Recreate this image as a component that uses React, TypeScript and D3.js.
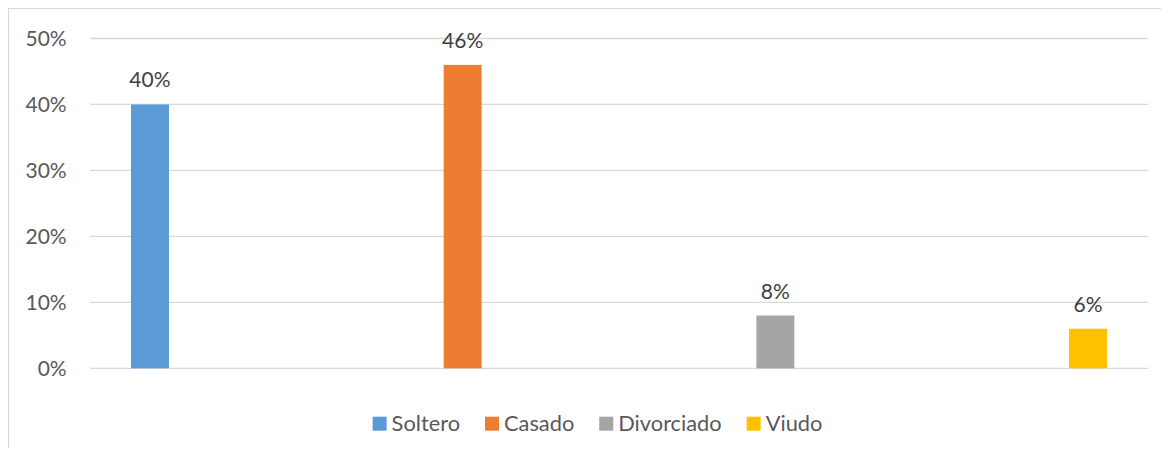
import React, { useEffect, useRef } from "react";
import * as d3 from "d3";

const categories = ["Soltero", "Casado", "Divorciado", "Viudo"];
const values = [0.40, 0.46, 0.08, 0.06];
const colors = ["#5B9BD5", "#ED7D31", "#A5A5A5", "#FFC000"];
const yTicks = [0, 0.1, 0.2, 0.3, 0.4, 0.5];

const W = 1153;
const H = 440;
const FONT = "Lato, 'Open Sans', sans-serif";

export default function App() {
  const ref = useRef<SVGSVGElement>(null);

  useEffect(() => {
    const svg = d3.select(ref.current);
    svg.selectAll("*").remove();

    svg.append("rect")
      .attr("x", 0.5).attr("y", 0.5)
      .attr("width", 2000).attr("height", 2000)
      .attr("fill", "#fff").attr("stroke", "#D9D9D9").attr("stroke-width", 1.2);

    const left = 82, right = 1140, top = 30.5, bottom = 360.3;
    const y = d3.scaleLinear().domain([0, 0.5]).range([bottom, top]);
    const x = d3.scaleBand<string>().domain(categories).range([left, right])
      .paddingInner(0.8785).paddingOuter(0.131);

    const g = svg.append("g");
    g.selectAll("line.grid").data(yTicks).join("line")
      .attr("class", "grid")
      .attr("x1", left).attr("x2", right)
      .attr("y1", (d) => y(d)).attr("y2", (d) => y(d))
      .attr("stroke", "#D9D9D9").attr("stroke-width", 1.3);

    g.selectAll("text.tick").data(yTicks).join("text")
      .attr("class", "tick")
      .attr("x", 58.7).attr("y", (d) => y(d)).attr("dy", "0.36em")
      .attr("text-anchor", "end")
      .attr("font-family", FONT).attr("font-size", 21).attr("fill", "#595959")
      .text((d) => d3.format(".0%")(d));

    g.selectAll("rect.bar").data(values).join("rect")
      .attr("class", "bar")
      .attr("x", (_, i) => x(categories[i])!)
      .attr("width", x.bandwidth())
      .attr("y", (d) => y(d))
      .attr("height", (d) => bottom - y(d))
      .attr("fill", (_, i) => colors[i]);

    g.selectAll("text.lbl").data(values).join("text")
      .attr("class", "lbl")
      .attr("x", (_, i) => x(categories[i])! + x.bandwidth() / 2)
      .attr("y", (d) => y(d) - 17)
      .attr("text-anchor", "middle")
      .attr("font-family", FONT).attr("font-size", 21).attr("fill", "#404040")
      .text((d) => d3.format(".0%")(d));

    // legend
    const lg = svg.append("g");
    const sq = 14, gapText = 5, gapItem = 25;
    const items = categories.map((c, i) => {
      const it = lg.append("g");
      it.append("rect").attr("width", sq).attr("height", sq).attr("y", 408.7).attr("fill", colors[i]);
      const t = it.append("text")
        .attr("x", sq + gapText).attr("y", 422.7)
        .attr("font-family", FONT).attr("font-size", 21.8).attr("fill", "#595959")
        .text(c);
      const w = (t.node() as SVGTextElement).getComputedTextLength();
      return { it, w: sq + gapText + w };
    });
    const total = d3.sum(items, (d) => d.w) + gapItem * (items.length - 1);
    let cx = 589.5 - total / 2;
    items.forEach((d) => {
      d.it.attr("transform", `translate(${cx},0)`);
      cx += d.w + gapItem;
    });
  }, []);

  return <svg ref={ref} width={W} height={H} style={{ display: "block" }} />;
}
